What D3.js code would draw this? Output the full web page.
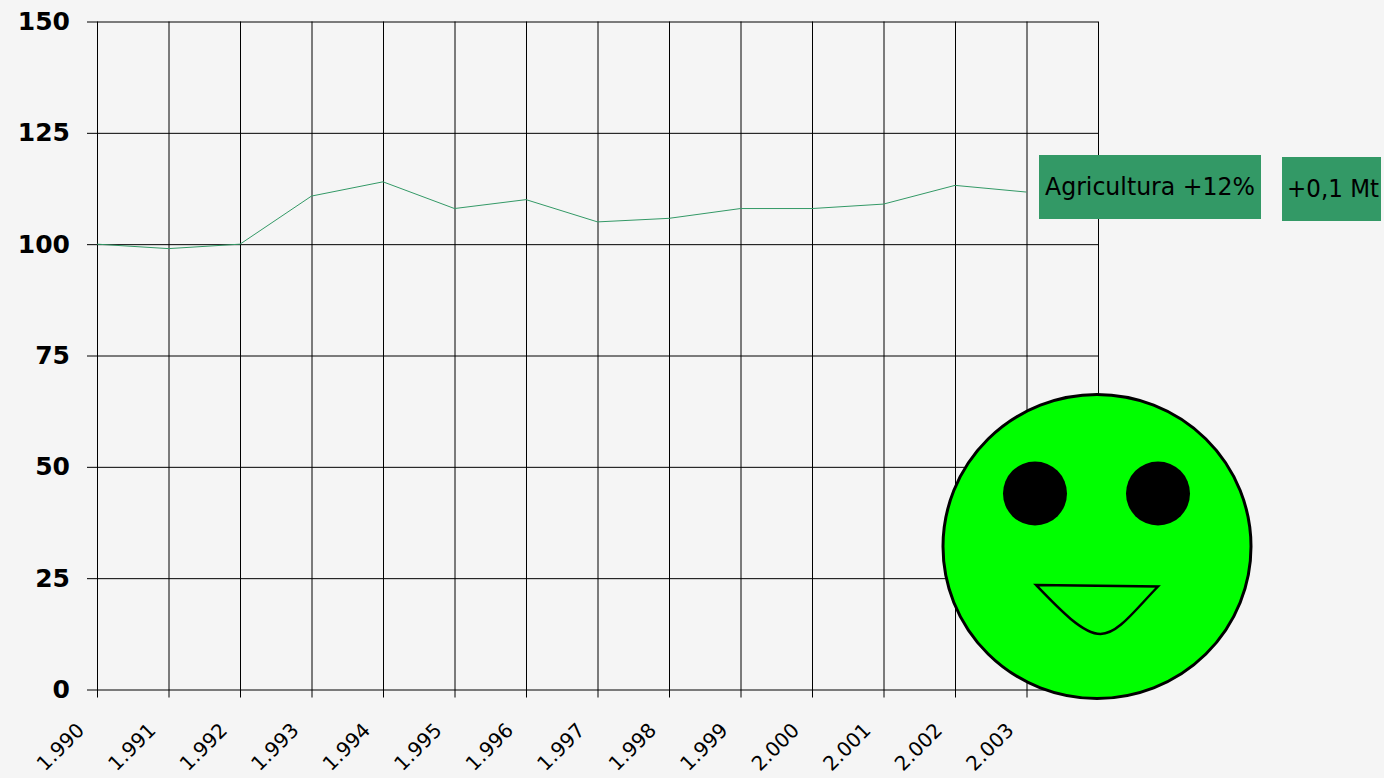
<!DOCTYPE html>
<html>
<head>
<meta charset="utf-8">
<script src="https://cdn.jsdelivr.net/npm/d3@7"></script>
<style>
  html, body { margin: 0; padding: 0; background: #f5f5f5; overflow: hidden; }
  text { font-family: "Comic Sans MS", "DejaVu Sans", sans-serif; fill: #000; }
</style>
</head>
<body>
<div id="chart"></div>
<script>
// values
let years = [1990, 1991, 1992, 1993, 1994, 1995, 1996, 1997, 1998, 1999, 2000, 2001, 2002, 2003]
let yearLabels = ["1.990", "1.991", "1.992", "1.993", "1.994", "1.995", "1.996", "1.997", "1.998", "1.999", "2.000", "2.001", "2.002", "2.003"]
let agricultura = [100, 99, 100, 110.8, 114, 108, 110, 105, 105.8, 108, 108, 109, 113.2, 111.7]
let yTicks = [0, 25, 50, 75, 100, 125, 150]

let width = 1384
let height = 778

let svg = d3.select("#chart")
    .append("svg")
    .attr("width", width)
    .attr("height", height)
    .style("display", "block")

let x = d3.scaleLinear().domain([1990, 2004]).range([97, 1098])
let y = d3.scaleLinear().domain([0, 150]).range([689.5, 21.5])

// horizontal grid
let yAxis = d3.axisLeft(y)
    .tickValues(yTicks)
    .tickSize(1011)
let gy = svg.append("g")
    .attr("transform", "translate(1098,0)")
    .call(yAxis)
gy.select(".domain").remove()
gy.selectAll("line").attr("stroke", "#000").attr("stroke-width", 1)
gy.selectAll("text")
    .attr("x", -1028)
    .style("font-size", "25px")
    .style("font-weight", "bold")

// vertical grid, one extra line closes the plot on the right
let xAxis = d3.axisBottom(x)
    .tickValues(years.concat([2004]))
    .tickSize(676)
    .tickFormat("")
let gx = svg.append("g")
    .attr("transform", "translate(0,21.5)")
    .call(xAxis)
gx.select(".domain").remove()
gx.selectAll("line").attr("stroke", "#000").attr("stroke-width", 1)

svg.append("g")
    .selectAll("text")
    .data(years)
    .enter()
    .append("text")
    .attr("transform", d => "translate(" + (x(d) - 52) + ",772) rotate(-45)")
    .style("font-size", "20px")
    .text((d, i) => yearLabels[i])

let line = d3.line()
    .x((d, i) => x(years[i]))
    .y(d => y(d))

svg.append("path")
    .datum(agricultura)
    .attr("d", line)
    .attr("fill", "none")
    .attr("stroke", "#339966")
    .attr("stroke-width", 1)

// labels on the right
svg.append("rect").attr("x", 1039).attr("y", 155).attr("width", 222).attr("height", 64).attr("fill", "#339966")
svg.append("text").attr("x", 1045).attr("y", 195)
    .attr("textLength", 210).attr("lengthAdjust", "spacingAndGlyphs")
    .style("font-size", "24px").text("Agricultura +12%")

svg.append("rect").attr("x", 1282).attr("y", 157).attr("width", 99).attr("height", 64).attr("fill", "#339966")
svg.append("text").attr("x", 1287).attr("y", 197)
    .attr("textLength", 92).attr("lengthAdjust", "spacingAndGlyphs")
    .style("font-size", "24px").text("+0,1 Mt")

// smiley
let face = svg.append("g")
face.append("ellipse").attr("cx", 1097).attr("cy", 546.5).attr("rx", 154).attr("ry", 152)
    .attr("fill", "#00ff00").attr("stroke", "#000").attr("stroke-width", 3)
face.append("circle").attr("cx", 1035).attr("cy", 493.5).attr("r", 32).attr("fill", "#000")
face.append("circle").attr("cx", 1158).attr("cy", 493.5).attr("r", 32).attr("fill", "#000")
face.append("path")
    .attr("d", "M1036,585 L1158,586.5 C1135,610 1118,634 1100.5,634 C1083,634 1060,610 1036,585 Z")
    .attr("fill", "#00ff00").attr("stroke", "#000").attr("stroke-width", 2.5)
</script>
</body>
</html>
